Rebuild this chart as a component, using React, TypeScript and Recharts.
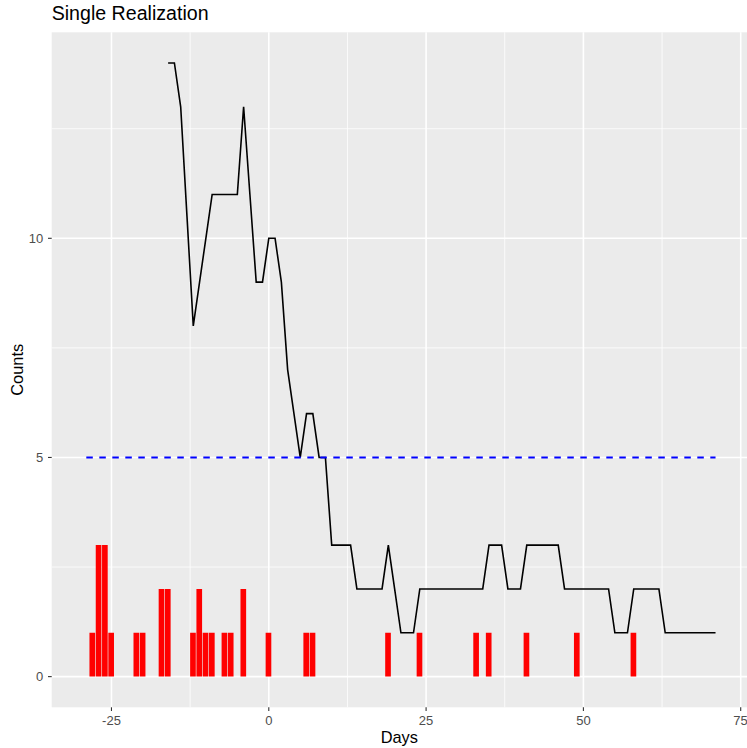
import React from 'react';
import {
  ComposedChart,
  Bar,
  Line,
  XAxis,
  YAxis,
  CartesianGrid,
  ReferenceLine,
} from 'recharts';

// ---- data ----
const barDays = [-28, -27, -26, -25, -21, -20, -17, -16, -12, -11, -10, -9, -7, -6, -4, 0, 6, 7, 19, 24, 33, 35, 41, 49, 58];
const barCounts = [1, 3, 3, 1, 1, 1, 2, 2, 1, 2, 1, 1, 1, 1, 2, 1, 1, 1, 1, 1, 1, 1, 1, 1, 1];

const lineFirstDay = -16;
const lineCounts = [
  14, 14, 13, 10.5, 8, 9, 10, 11, 11, 11, 11, 11, 13, 11, 9, 9,
  10, 10, 9, 7, 6, 5, 6, 6, 5, 5,
  3, 3, 3, 3, 2, 2, 2, 2, 2, 3,
  2, 1, 1, 1, 2, 2, 2, 2, 2, 2,
  2, 2, 2, 2, 2, 3, 3, 3, 2, 2,
  2, 3, 3, 3, 3, 3, 3, 2, 2, 2,
  2, 2, 2, 2, 2, 1, 1, 1, 2, 2,
  2, 2, 2, 1, 1, 1, 1, 1, 1, 1, 1, 1,
];

const thresholdValue = 5;
const thresholdFrom = -29;
const thresholdTo = 71;

const xTicks = [-25, 0, 25, 50, 75];
const xMinor = [-12.5, 12.5, 37.5, 62.5];
const yTicks = [0, 5, 10];
const yMinor = [2.5, 7.5, 12.5];
const xDomain = [-34.5, 76];
const yDomain = [-0.7, 14.7];

const firstDay = -28;
const lastDay = 71;

// ---- table built from the arrays ----
const tableData = [] as { day: number; count: number | null; line: number | null }[];
for (let d = firstDay; d <= lastDay; d++) {
  const bi = barDays.indexOf(d);
  const li = d - lineFirstDay;
  tableData.push({
    day: d,
    count: bi >= 0 ? barCounts[bi] : null,
    line: li >= 0 && li < lineCounts.length ? lineCounts[li] : null,
  });
}

const FONT = '"Liberation Sans", Arial, Helvetica, sans-serif';
const tickStyle = { fill: '#4D4D4D', fontSize: 13, fontFamily: FONT };

const DaysLabel = (props: any) => {
  const vb = props.viewBox || {};
  return (
    <text
      x={vb.x + vb.width / 2}
      y={vb.y + vb.height - 5}
      textAnchor="middle"
      fontSize={16.4}
      fontFamily={FONT}
      fill="#000"
    >
      Days
    </text>
  );
};

const CountsLabel = (props: any) => {
  const vb = props.viewBox || {};
  const x = vb.x + 23.3;
  const y = vb.y + vb.height / 2;
  return (
    <text
      x={x}
      y={y}
      transform={`rotate(-90 ${x} ${y})`}
      textAnchor="middle"
      fontSize={16.4}
      fontFamily={FONT}
      fill="#000"
    >
      Counts
    </text>
  );
};

export default function App() {
  return (
    <div style={{ position: 'absolute', left: 0, top: 0, width: 747, height: 748, background: '#fff' }}>
      <div
        style={{
          position: 'absolute',
          left: 51.7,
          top: 2,
          fontFamily: FONT,
          fontSize: 19.6,
          color: '#000',
          lineHeight: 'normal',
          whiteSpace: 'nowrap',
        }}
      >
        Single Realization
      </div>
      <ComposedChart
        width={747}
        height={748}
        data={tableData}
        margin={{ top: 32.3, right: 0, bottom: 0, left: 0 }}
      >
        <CartesianGrid
          fill="#EBEBEB"
          fillOpacity={1}
          stroke="#FFFFFF"
          strokeWidth={0.8}
          horizontalValues={yMinor}
          verticalValues={xMinor}
        />
        <CartesianGrid
          stroke="#FFFFFF"
          strokeWidth={1.6}
          horizontalValues={yTicks}
          verticalValues={xTicks}
        />
        <XAxis
          dataKey="day"
          type="number"
          domain={xDomain}
          ticks={xTicks}
          allowDataOverflow
          height={40.7}
          axisLine={false}
          tickSize={3.7}
          tickMargin={5}
          tickLine={{ stroke: '#333333', strokeWidth: 1.1 }}
          tick={tickStyle}
          label={{ content: DaysLabel }}
        />
        <YAxis
          type="number"
          domain={yDomain}
          ticks={yTicks}
          allowDataOverflow
          width={51.7}
          axisLine={false}
          tickSize={3.7}
          tickMargin={4.7}
          tickLine={{ stroke: '#333333', strokeWidth: 1.1 }}
          tick={tickStyle}
          label={{ content: CountsLabel }}
        />
        <Bar dataKey="count" fill="#FF0000" barSize={5.66} isAnimationActive={false} />
        <Line
          dataKey="line"
          type="linear"
          stroke="#000000"
          strokeWidth={1.6}
          dot={false}
          activeDot={false}
          connectNulls={false}
          isAnimationActive={false}
        />
        <ReferenceLine
          segment={[
            { x: thresholdFrom, y: thresholdValue },
            { x: thresholdTo, y: thresholdValue },
          ]}
          stroke="#0000FF"
          strokeWidth={2}
          strokeDasharray="6.5 6.5"
        />
      </ComposedChart>
    </div>
  );
}
